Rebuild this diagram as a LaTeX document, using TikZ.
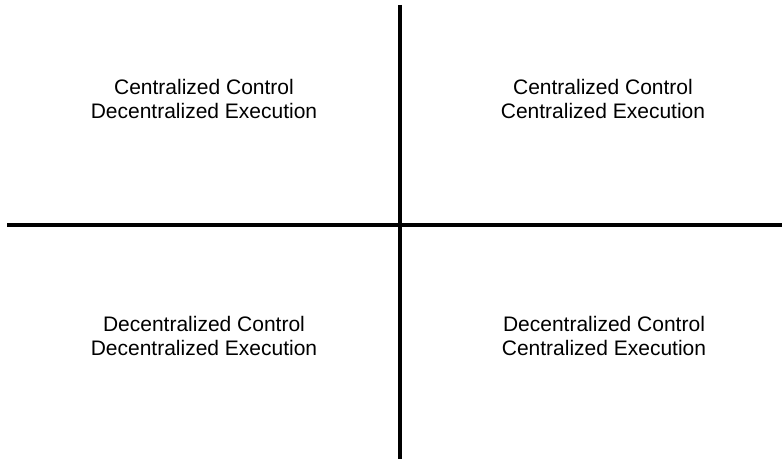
\documentclass[tikz,border=0pt]{standalone}
\usepackage{fontspec}
\setmainfont{Liberation Sans}
\begin{document}
\begin{tikzpicture}[x=1pt,y=1pt,
  axis/.style={line width=3.6pt,black},
  quad/.style={align=center,font=\fontsize{21}{24}\selectfont,inner sep=0pt}]
\useasboundingbox (0,0) rectangle (782,461);
\coordinate (vt) at (400,456);
\coordinate (vb) at (400,2);
\coordinate (hl) at (7,236);
\coordinate (hr) at (782,236);
\draw[axis] (vt) -- (vb);
\draw[axis] (hl) -- (hr);
\node[quad] (tl) at (204,362.5) {Centralized Control\\Decentralized Execution};
\node[quad] (tr) at (603,362.5) {Centralized Control\\Centralized Execution};
\node[quad] (bl) at (204,125.5) {Decentralized Control\\Decentralized Execution};
\node[quad] (br) at (604,125.5) {Decentralized Control\\Centralized Execution};
\end{tikzpicture}
\end{document}
